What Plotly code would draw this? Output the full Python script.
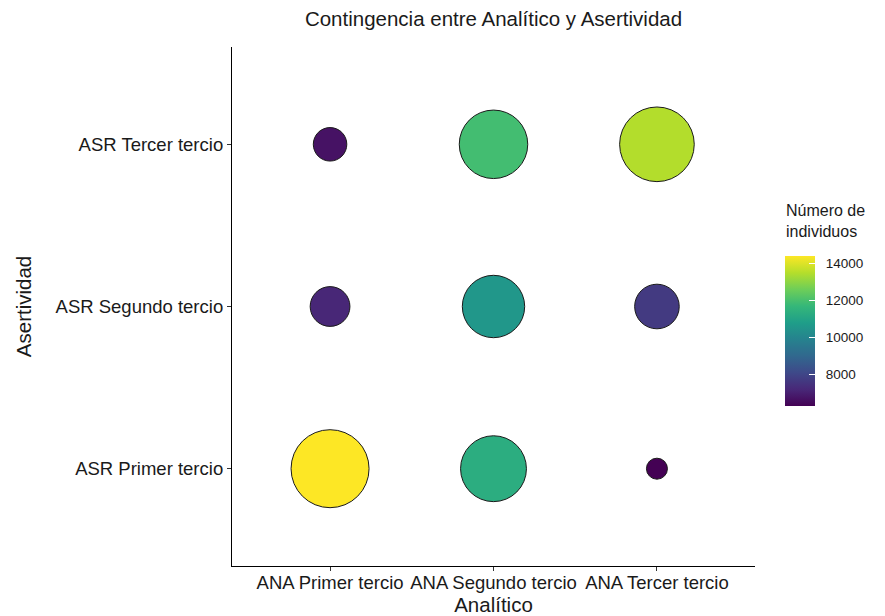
import plotly.graph_objects as go
import numpy as np

# Categorías y conteos
ana_cats = ["ANA Primer tercio", "ANA Segundo tercio", "ANA Tercer tercio"]
asr_cats = ["ASR Primer tercio", "ASR Segundo tercio", "ASR Tercer tercio"]

ana = ["ANA Primer tercio", "ANA Segundo tercio", "ANA Tercer tercio",
       "ANA Primer tercio", "ANA Segundo tercio", "ANA Tercer tercio",
       "ANA Primer tercio", "ANA Segundo tercio", "ANA Tercer tercio"]
asr = ["ASR Primer tercio", "ASR Primer tercio", "ASR Primer tercio",
       "ASR Segundo tercio", "ASR Segundo tercio", "ASR Segundo tercio",
       "ASR Tercer tercio", "ASR Tercer tercio", "ASR Tercer tercio"]
n = [14380, 11300, 6270,
     7150, 10550, 7660,
     6660, 11900, 13450]

cb_ticks = [8000, 10000, 12000, 14000]

# escala de tamaño tipo ggplot (area proporcional)
vals = np.array(n, dtype=float)
r = (vals - vals.min()) / (vals.max() - vals.min())
sizes = 21 + np.sqrt(r) * (78 - 21)

font = "Liberation Sans, Arial, Helvetica, sans-serif"

fig = go.Figure()
fig.add_trace(go.Scatter(
    x=ana, y=asr, mode="markers",
    marker=dict(
        size=sizes, sizemode="diameter",
        color=n, colorscale="Viridis",
        cmin=min(n), cmax=max(n),
        line=dict(color="#1a1a1a", width=1),
        opacity=1,
        colorbar=dict(
            thickness=30, len=150, lenmode="pixels", ypad=0,
            x=1.0, xanchor="left", xpad=30, xref="paper",
            y=0.597, yanchor="top",
            tickvals=cb_ticks,
            ticktext=["\u00a0\u00a0" + str(t) for t in cb_ticks],
            ticks="inside", ticklen=6,
            tickcolor="white", tickwidth=1,
            tickfont=dict(size=13.5, color="#1a1a1a", family=font),
            outlinewidth=0,
        ),
    ),
    showlegend=False,
    hovertemplate="%{x}<br>%{y}<br>%{marker.color}<extra></extra>",
))

# la página añade 8px de margen al cuerpo; se compensa en los márgenes
fig.update_layout(
    width=885, height=616,
    margin=dict(l=224, r=138, t=39, b=58, autoexpand=False),
    plot_bgcolor="white", paper_bgcolor="white",
    font=dict(family=font, color="#1a1a1a"),
    title=dict(text="Contingencia entre Analítico y Asertividad",
               x=0.5, xref="paper", xanchor="center", y=0.983, yanchor="middle",
               font=dict(size=20.5, color="#1a1a1a", family=font)),
    xaxis=dict(
        type="category", categoryorder="array", categoryarray=ana_cats,
        range=[-0.6, 2.6], showgrid=False, zeroline=False, automargin=False,
        showline=True, linecolor="black", linewidth=1.2,
        ticks="outside", ticklen=4, tickcolor="#333333",
        ticklabelstandoff=-4,
        tickfont=dict(size=18.5, color="#1a1a1a"),
        title=dict(text="Analítico", font=dict(size=20.5, color="#1a1a1a"), standoff=0),
    ),
    yaxis=dict(
        type="category", categoryorder="array", categoryarray=asr_cats,
        range=[-0.6, 2.6], showgrid=False, zeroline=False, automargin=False,
        showline=True, linecolor="black", linewidth=1.2,
        ticks="outside", ticklen=4, tickcolor="#333333",
        tickfont=dict(size=18.5, color="#1a1a1a"),
        title=dict(text="Asertividad", font=dict(size=20.5, color="#1a1a1a"), standoff=18),
    ),
    annotations=[
        dict(text="Número de<br>individuos", xref="paper", yref="paper",
             x=1.0, y=0.665, xanchor="left", yanchor="middle", xshift=29,
             align="left", showarrow=False,
             font=dict(size=16, color="#1a1a1a", family=font)),
    ],
)

fig.write_html("out.html")
